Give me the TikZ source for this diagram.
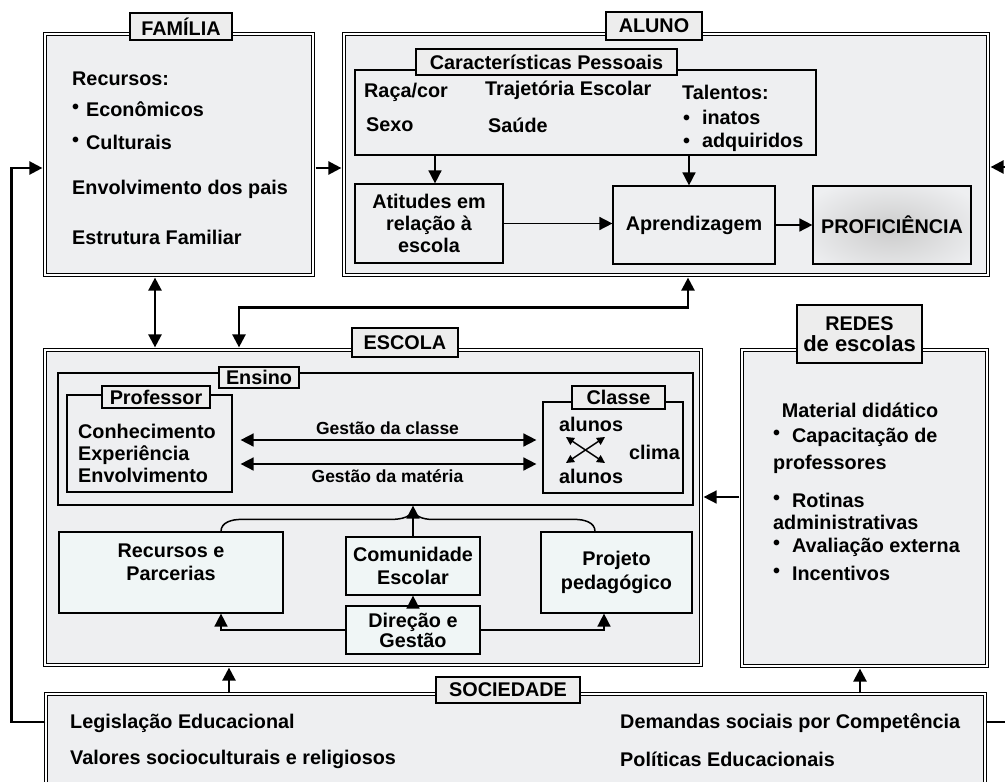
\documentclass[tikz,border=0pt]{standalone}
\usepackage{fontspec}
\setmainfont{Liberation Sans}
\usetikzlibrary{arrows.meta,positioning}

\definecolor{boxgray}{HTML}{EEEFF1}
\definecolor{lblgray}{HTML}{EDEDED}
\definecolor{paleteal}{HTML}{F0F6F6}

\newcommand{\upbul}{\raisebox{3pt}{\textbullet}}

\begin{document}
\begin{tikzpicture}[x=1pt, y=1pt,
  every node/.style={font=\bfseries\fontsize{19.8}{23}\selectfont, inner sep=0pt},
  frame/.style={rectangle, draw, double=white, double distance=1.5pt, line width=1.2pt, fill=boxgray},
  box/.style={rectangle, draw, line width=1.2pt, fill=boxgray, align=center},
  lbl/.style={box, fill=lblgray},
  cbox/.style={box, fill=paleteal},
  txt/.style={anchor=west, align=left},
  gest/.style={font=\bfseries\fontsize{17.5}{20}\selectfont, inner sep=5pt},
  arr/.style={-{Triangle[length=13pt,width=13pt]}, line width=1.6pt},
  darr/.style={{Triangle[length=13pt,width=13pt]}-{Triangle[length=13pt,width=13pt]}, line width=1.6pt},
  xarr/.style={{Triangle[length=8pt,width=8pt]}-{Triangle[length=8pt,width=8pt]}, line width=1.5pt},
  bigarr/.style={-{Triangle[length=13pt,width=13pt]}, line width=2.4pt},
  bigdarr/.style={{Triangle[length=13pt,width=13pt]}-{Triangle[length=13pt,width=13pt]}, line width=2.4pt}
]
\useasboundingbox (0,0) rectangle (1005,-782);

% Outer frames
\node[frame, minimum width=268pt, minimum height=241pt] (fam) at (179,-154.5) {};
\node[frame, minimum width=644pt, minimum height=241pt] (alu) at (666,-154.5) {};
\node[frame, minimum width=656pt, minimum height=315pt] (esc) at (373,-507.5) {};
\node[frame, minimum width=245pt, minimum height=316pt] (red) at (864.5,-508) {};
\node[frame, minimum width=939pt, minimum height=106pt] (soc) at (515.5,-747) {};

% Frame labels
\node[lbl, minimum width=102pt, minimum height=27pt] (famlbl) at (181,-26.5) {FAMÍLIA};
\node[lbl, minimum width=96pt, minimum height=28pt] (alulbl) at (654,-26) {ALUNO};
\node[lbl, minimum width=106pt, minimum height=29pt] (esclbl) at (405,-342.5) {ESCOLA};
\node[lbl, minimum width=125pt, minimum height=58pt] (redlbl) at (859.5,-334) {REDES\\[-2pt]{\fontsize{22}{22}\selectfont de escolas}};
\node[lbl, minimum width=144pt, minimum height=26pt] (soclbl) at (508,-690) {SOCIEDADE};

% Familia
\node[txt] (recursos) at (72,-79) {Recursos:};
\node[txt] (econ) at (72,-109) {\upbul\hspace{7pt}Econômicos};
\node[txt] (cult) at (72,-142) {\upbul\hspace{7pt}Culturais};
\node[txt] (envpais) at (72,-189) {Envolvimento dos pais};
\node[txt] (estfam) at (72,-237) {Estrutura Familiar};

% Aluno
\node[box, minimum width=461pt, minimum height=85pt] (carac) at (585.5,-112.5) {};
\node[lbl, minimum width=261pt, minimum height=26pt] (caraclbl) at (546.5,-62) {Características Pessoais};
\node[txt] (raca) at (364,-92) {Raça/cor};
\node[txt] (traj) at (485,-90) {Trajetória Escolar};
\node[txt] (sexo) at (366,-125) {Sexo};
\node[txt] (saude) at (488,-125) {Saúde};
\node[txt] (talentos) at (682,-92) {Talentos:};
\node[txt] (inatos) at (683,-117) {\textbullet\hspace{12pt}inatos};
\node[txt] (adquir) at (683,-142) {\textbullet\hspace{12pt}adquiridos};

\node[box, minimum width=148pt, minimum height=79pt, font=\bfseries\fontsize{19.8}{22}\selectfont] (atit) at (429,-223.5) {Atitudes em\\relação à\\escola};
\node[box, minimum width=162pt, minimum height=78pt] (apre) at (694,-225) {Aprendizagem};
\node[box, minimum width=158pt, minimum height=78pt,
  path picture={\shade[inner color=black!20, outer color=boxgray]
    ([shift={(-100pt,-56pt)}]path picture bounding box.center) rectangle
    ([shift={(100pt,48pt)}]path picture bounding box.center);}] (prof) at (892,-225) {PROFICIÊNCIA};

\draw[arr] ([xshift=6pt]atit.north |- carac.south) -- ([xshift=6pt]atit.north);
\draw[arr] ([xshift=-5pt]apre.north |- carac.south) -- ([xshift=-5pt]apre.north);
\draw[arr] (atit.east) -- (atit.east -| apre.west);
\draw[arr] (apre.east) -- (apre.east -| prof.west);

% Escola: ensino
\node[box, minimum width=635pt, minimum height=132pt] (ensino) at (375.5,-439) {};
\node[lbl, minimum width=80pt, minimum height=21pt] (enslbl) at (259,-377.5) {Ensino};
\node[box, minimum width=165pt, minimum height=97pt] (profr) at (149.5,-443.5) {};
\node[lbl, minimum width=108pt, minimum height=22pt] (proflbl) at (156,-397) {Professor};
\node[txt, font=\bfseries\fontsize{19.8}{22}\selectfont] (conhec) at (78,-453) {Conhecimento\\Experiência\\Envolvimento};
\node[box, minimum width=140pt, minimum height=91pt] (classe) at (613,-447.5) {};
\node[lbl, minimum width=93pt, minimum height=23pt] (clalbl) at (618.5,-397.5) {Classe};
\node[txt] (alunos1) at (559,-424) {alunos};
\node[txt] (alunos2) at (559,-476) {alunos};
\node[txt] (clima) at (629,-452) {clima};
\coordinate (x1) at (566,-437);
\coordinate (x2) at (605,-463);
\coordinate (x3) at (605,-437);
\coordinate (x4) at (566,-463);
\draw[xarr] (x1) -- (x2);
\draw[xarr] (x3) -- (x4);

\draw[darr, shorten <=8pt, shorten >=6pt] ([yshift=3.5pt]profr.east) -- ([yshift=3.5pt]profr.east -| classe.west)
  node[midway, above, gest] {Gestão da classe};
\draw[darr, shorten <=8pt, shorten >=6pt] ([yshift=-20.5pt]profr.east) -- ([yshift=-20.5pt]profr.east -| classe.west)
  node[midway, below, gest] {Gestão da matéria};

% Escola: gestao
\node[cbox, minimum width=224pt, minimum height=81pt] (recu) at (171,-572.5) {};
\node[align=center] (recutxt) at (171,-562) {Recursos e\\Parcerias};
\node[cbox, minimum width=134pt, minimum height=58pt] (comu) at (413,-566) {Comunidade\\Escolar};
\node[cbox, minimum width=134pt, minimum height=48pt, font=\bfseries\fontsize{19.8}{20}\selectfont] (dire) at (413,-630) {Direção e\\Gestão};
\node[cbox, minimum width=151pt, minimum height=81pt, font=\bfseries\fontsize{19.8}{24}\selectfont] (proj) at (616.5,-572.5) {Projeto\\pedagógico};

\coordinate (cusp) at ([yshift=-2pt]comu.north |- ensino.south);
\draw[line width=1.5pt] ([xshift=50pt]recu.north) to[out=90,in=180] ++(20,12) -- ++(150,0) to[out=0,in=-90] (cusp);
\draw[line width=1.5pt] ([xshift=-21.5pt]proj.north) to[out=90,in=0] ++(-20,12) -- ++(-143,0) to[out=180,in=-90] (cusp);
\draw[arr] (comu.north) -- (comu.north |- ensino.south);
\draw[arr] (dire.north) -- (comu.south);
\draw[arr] (dire.west) -| ([xshift=50pt]recu.south);
\draw[arr] (dire.east) -| ([xshift=-12.5pt]proj.south);

% Redes
\node (material) at (860,-410) {Material didático};
\node[txt] (capac) at (773,-437) {\upbul\hspace{12pt}Capacitação de};
\node[txt] (profes) at (773,-464) {professores};
\node[txt] (rotinas) at (773,-500) {\upbul\hspace{12pt}Rotinas};
\node[txt] (admin) at (773,-522) {administrativas};
\node[txt] (avalia) at (773,-547) {\upbul\hspace{12pt}Avaliação externa};
\node[txt] (incent) at (773,-573) {\upbul\hspace{12pt}Incentivos};

% Sociedade
\node[txt] (legis) at (70,-723) {Legislação Educacional};
\node[txt] (valores) at (70,-759) {Valores socioculturais e religiosos};
\node[txt] (demandas) at (620,-723) {Demandas sociais por Competência};
\node[txt] (politicas) at (620,-759) {Políticas Educacionais};

% Connections between frames
\draw[bigarr, shorten <=2pt, shorten >=2pt] ([yshift=-13.5pt]fam.east) -- ([yshift=-13.5pt]fam.east -| alu.west);
\draw[bigdarr, shorten <=2pt, shorten >=2pt] ([xshift=-24pt]fam.south) -- ([xshift=-24pt]fam.south |- esc.north);
\draw[bigdarr, shorten <=2pt, shorten >=2pt] ([xshift=22pt]alu.south) -- ++(0,-32) -| ([xshift=-134pt]esc.north);
\draw[arr, shorten <=2pt, shorten >=2pt] ([yshift=11pt]red.west) -- ([yshift=11pt]red.west -| esc.east);
\draw[bigarr, shorten >=2pt] ([xshift=-286.5pt]soc.north) -- ([xshift=-286.5pt]soc.north |- esc.south);
\draw[bigarr, shorten >=2pt] ([xshift=344.5pt]soc.north) -- ([xshift=344.5pt]soc.north |- red.south);
\draw[bigarr, shorten >=2pt] ([yshift=25pt]soc.west) -- ++(-34,0) |- ([yshift=-13.5pt]fam.west);
\draw[bigarr, shorten >=2pt] ([yshift=25pt]soc.east) -- ++(23,0) |- ([yshift=-12.5pt]alu.east);

\end{tikzpicture}
\end{document}
